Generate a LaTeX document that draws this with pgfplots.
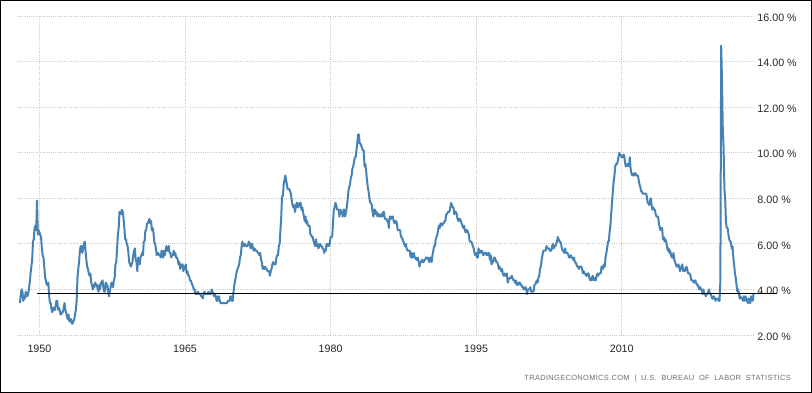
\documentclass[border=0pt]{standalone}
\usepackage{pgfplots}
\pgfplotsset{compat=1.18}
\usepackage{pgfplotstable}
\usepackage{fontspec}
\setmainfont{Liberation Sans}
\newfontfamily\footfont[LetterSpace=4]{Liberation Sans}
\definecolor{lineblue}{RGB}{70,130,180}
\definecolor{gridgray}{RGB}{200,200,200}
\definecolor{footgray}{RGB}{110,110,110}
% US unemployment rate, monthly, Jan 1948 - Aug 2023
\pgfplotstableread[row sep=\\, header=false]{
3.4\\3.8\\4.0\\3.9\\3.5\\3.6\\3.6\\3.9\\3.8\\3.7\\3.8\\4.0\\
4.3\\4.7\\5.0\\5.3\\6.1\\6.2\\6.7\\6.8\\6.6\\7.9\\6.4\\6.6\\
6.5\\6.4\\6.3\\5.8\\5.5\\5.4\\5.0\\4.5\\4.4\\4.2\\4.2\\4.3\\
3.7\\3.4\\3.4\\3.1\\3.0\\3.2\\3.1\\3.1\\3.3\\3.5\\3.5\\3.1\\
3.2\\3.1\\2.9\\2.9\\3.0\\3.0\\3.2\\3.4\\3.1\\3.0\\2.8\\2.7\\
2.9\\2.6\\2.6\\2.7\\2.5\\2.5\\2.6\\2.7\\2.9\\3.1\\3.5\\4.5\\
4.9\\5.2\\5.7\\5.9\\5.9\\5.6\\5.8\\6.0\\6.1\\5.7\\5.3\\5.0\\
4.9\\4.7\\4.6\\4.7\\4.3\\4.2\\4.0\\4.2\\4.1\\4.3\\4.2\\4.2\\
4.0\\3.9\\4.2\\4.0\\4.3\\4.3\\4.4\\4.1\\3.9\\3.9\\4.3\\4.2\\
4.2\\3.9\\3.7\\3.9\\4.1\\4.3\\4.2\\4.1\\4.4\\4.5\\5.1\\5.2\\
5.8\\6.4\\6.7\\7.4\\7.4\\7.3\\7.5\\7.4\\7.1\\6.7\\6.2\\6.2\\
6.0\\5.9\\5.6\\5.2\\5.1\\5.0\\5.1\\5.2\\5.5\\5.7\\5.8\\5.3\\
5.2\\4.8\\5.4\\5.2\\5.1\\5.4\\5.5\\5.6\\5.5\\6.1\\6.1\\6.6\\
6.6\\6.9\\6.9\\7.0\\7.1\\6.9\\7.0\\6.6\\6.7\\6.5\\6.1\\6.0\\
5.8\\5.5\\5.6\\5.6\\5.5\\5.5\\5.4\\5.7\\5.6\\5.4\\5.7\\5.5\\
5.7\\5.9\\5.7\\5.7\\5.9\\5.6\\5.6\\5.4\\5.5\\5.5\\5.7\\5.5\\
5.6\\5.4\\5.4\\5.3\\5.1\\5.2\\4.9\\5.0\\5.1\\5.1\\4.8\\5.0\\
4.9\\5.1\\4.7\\4.8\\4.6\\4.6\\4.4\\4.4\\4.3\\4.2\\4.1\\4.0\\
4.0\\3.8\\3.8\\3.8\\3.9\\3.8\\3.8\\3.8\\3.7\\3.7\\3.6\\3.8\\
3.9\\3.8\\3.8\\3.8\\3.8\\3.9\\3.8\\3.8\\3.8\\4.0\\3.9\\3.8\\
3.7\\3.8\\3.7\\3.5\\3.5\\3.7\\3.7\\3.5\\3.4\\3.4\\3.4\\3.4\\
3.4\\3.4\\3.4\\3.4\\3.4\\3.5\\3.5\\3.5\\3.7\\3.7\\3.5\\3.5\\
3.9\\4.2\\4.4\\4.6\\4.8\\4.9\\5.0\\5.1\\5.4\\5.5\\5.9\\6.1\\
5.9\\5.9\\6.0\\5.9\\5.9\\5.9\\6.0\\6.1\\6.0\\5.8\\6.0\\6.0\\
5.8\\5.7\\5.8\\5.7\\5.7\\5.7\\5.6\\5.6\\5.5\\5.6\\5.3\\5.2\\
4.9\\5.0\\4.9\\5.0\\4.9\\4.9\\4.8\\4.8\\4.8\\4.6\\4.8\\4.9\\
5.1\\5.2\\5.1\\5.1\\5.1\\5.4\\5.5\\5.5\\5.9\\6.0\\6.6\\7.2\\
8.1\\8.1\\8.6\\8.8\\9.0\\8.8\\8.6\\8.4\\8.4\\8.4\\8.3\\8.2\\
7.9\\7.7\\7.6\\7.7\\7.4\\7.6\\7.8\\7.8\\7.6\\7.7\\7.8\\7.8\\
7.5\\7.6\\7.4\\7.2\\7.0\\7.2\\6.9\\7.0\\6.8\\6.8\\6.8\\6.4\\
6.4\\6.3\\6.3\\6.1\\6.0\\5.9\\6.2\\5.9\\6.0\\5.8\\5.9\\6.0\\
5.9\\5.9\\5.8\\5.8\\5.6\\5.7\\5.7\\6.0\\5.9\\6.0\\5.9\\6.0\\
6.3\\6.3\\6.3\\6.9\\7.5\\7.6\\7.8\\7.7\\7.5\\7.5\\7.5\\7.2\\
7.5\\7.4\\7.4\\7.2\\7.5\\7.5\\7.2\\7.4\\7.6\\7.9\\8.3\\8.5\\
8.6\\8.9\\9.0\\9.3\\9.4\\9.6\\9.8\\9.8\\10.1\\10.4\\10.8\\10.8\\
10.4\\10.4\\10.3\\10.2\\10.1\\10.1\\9.4\\9.5\\9.2\\8.8\\8.5\\8.3\\
8.0\\7.8\\7.8\\7.7\\7.4\\7.2\\7.5\\7.5\\7.3\\7.4\\7.2\\7.3\\
7.3\\7.2\\7.2\\7.3\\7.2\\7.4\\7.4\\7.1\\7.1\\7.1\\7.0\\7.0\\
6.7\\7.2\\7.2\\7.1\\7.2\\7.2\\7.0\\6.9\\7.0\\7.0\\6.9\\6.6\\
6.6\\6.6\\6.6\\6.3\\6.3\\6.2\\6.1\\6.0\\5.9\\6.0\\5.8\\5.7\\
5.7\\5.7\\5.7\\5.4\\5.6\\5.4\\5.4\\5.6\\5.4\\5.4\\5.3\\5.3\\
5.4\\5.2\\5.0\\5.2\\5.2\\5.3\\5.2\\5.2\\5.3\\5.3\\5.4\\5.4\\
5.4\\5.3\\5.2\\5.4\\5.4\\5.2\\5.5\\5.7\\5.9\\5.9\\6.2\\6.3\\
6.4\\6.6\\6.8\\6.7\\6.9\\6.9\\6.8\\6.9\\6.9\\7.0\\7.0\\7.3\\
7.3\\7.4\\7.4\\7.4\\7.6\\7.8\\7.7\\7.6\\7.6\\7.3\\7.4\\7.4\\
7.3\\7.1\\7.0\\7.1\\7.1\\7.0\\6.9\\6.8\\6.7\\6.8\\6.6\\6.5\\
6.6\\6.6\\6.5\\6.4\\6.1\\6.1\\6.1\\6.0\\5.9\\5.8\\5.6\\5.5\\
5.6\\5.4\\5.4\\5.8\\5.6\\5.6\\5.7\\5.7\\5.6\\5.5\\5.6\\5.6\\
5.6\\5.5\\5.5\\5.6\\5.6\\5.3\\5.5\\5.1\\5.2\\5.2\\5.4\\5.4\\
5.3\\5.2\\5.2\\5.1\\4.9\\5.0\\4.9\\4.8\\4.9\\4.7\\4.6\\4.7\\
4.6\\4.6\\4.7\\4.3\\4.4\\4.5\\4.5\\4.5\\4.6\\4.5\\4.4\\4.4\\
4.3\\4.4\\4.2\\4.3\\4.2\\4.3\\4.3\\4.2\\4.2\\4.1\\4.1\\4.0\\
4.0\\4.1\\4.0\\3.8\\4.0\\4.0\\4.0\\4.1\\3.9\\3.9\\3.9\\3.9\\
4.2\\4.2\\4.3\\4.4\\4.3\\4.5\\4.6\\4.9\\5.0\\5.3\\5.5\\5.7\\
5.7\\5.7\\5.7\\5.9\\5.8\\5.8\\5.8\\5.7\\5.7\\5.7\\5.9\\6.0\\
5.8\\5.9\\5.9\\6.0\\6.1\\6.3\\6.2\\6.1\\6.1\\6.0\\5.8\\5.7\\
5.7\\5.6\\5.8\\5.6\\5.6\\5.6\\5.5\\5.4\\5.4\\5.5\\5.4\\5.4\\
5.3\\5.4\\5.2\\5.2\\5.1\\5.0\\5.0\\4.9\\5.0\\5.0\\5.0\\4.9\\
4.7\\4.8\\4.7\\4.7\\4.6\\4.6\\4.7\\4.7\\4.5\\4.4\\4.5\\4.4\\
4.6\\4.5\\4.4\\4.5\\4.4\\4.6\\4.7\\4.6\\4.7\\4.7\\4.7\\5.0\\
5.0\\4.9\\5.1\\5.0\\5.4\\5.6\\5.8\\6.1\\6.1\\6.5\\6.8\\7.3\\
7.8\\8.3\\8.7\\9.0\\9.4\\9.5\\9.5\\9.6\\9.8\\10.0\\9.9\\9.9\\
9.8\\9.8\\9.9\\9.9\\9.6\\9.4\\9.4\\9.5\\9.5\\9.4\\9.8\\9.3\\
9.1\\9.0\\9.0\\9.1\\9.0\\9.1\\9.0\\9.0\\9.0\\8.8\\8.6\\8.5\\
8.3\\8.3\\8.2\\8.2\\8.2\\8.2\\8.2\\8.1\\7.8\\7.8\\7.7\\7.9\\
8.0\\7.7\\7.5\\7.6\\7.5\\7.5\\7.3\\7.2\\7.2\\7.2\\6.9\\6.7\\
6.6\\6.7\\6.7\\6.2\\6.3\\6.1\\6.2\\6.1\\5.9\\5.7\\5.8\\5.6\\
5.7\\5.5\\5.4\\5.4\\5.6\\5.3\\5.2\\5.1\\5.0\\5.0\\5.1\\5.0\\
4.8\\4.9\\5.0\\5.1\\4.8\\4.9\\4.8\\4.9\\5.0\\4.9\\4.7\\4.7\\
4.7\\4.6\\4.4\\4.4\\4.4\\4.3\\4.3\\4.4\\4.3\\4.2\\4.2\\4.1\\
4.0\\4.1\\4.0\\4.0\\3.8\\4.0\\3.8\\3.8\\3.7\\3.8\\3.8\\3.9\\
4.0\\3.8\\3.8\\3.7\\3.6\\3.6\\3.7\\3.6\\3.5\\3.6\\3.6\\3.6\\
3.5\\3.5\\4.4\\14.7\\13.2\\11.0\\10.2\\8.4\\7.9\\6.9\\6.7\\6.7\\
6.4\\6.2\\6.1\\6.1\\5.8\\5.9\\5.4\\5.1\\4.7\\4.5\\4.2\\3.9\\
4.0\\3.8\\3.6\\3.7\\3.6\\3.6\\3.5\\3.7\\3.5\\3.7\\3.6\\3.5\\
3.4\\3.6\\3.5\\3.4\\3.7\\3.6\\3.5\\3.8\\
}\unrate
\begin{document}
\begin{tikzpicture}[x=1pt,y=1pt]
\useasboundingbox (0,0) rectangle (812,393);
\draw[black, line width=1pt] (0.5,0.5) rectangle (811.5,392.5);
\begin{axis}[
  at={(18pt,58pt)}, anchor=south west,
  scale only axis, width=735.6pt, height=319pt,
  xmin=1947.79, xmax=2023.59, ymin=2, ymax=16,
  axis line style={draw=none},
  major tick length=0pt,
  xtick={1950,1965,1980,1995,2010},
  xticklabels={1950,1965,1980,1995,2010},
  ytick={2,4,6,8,10,12,14,16},
  yticklabels={2.00 \%,4.00 \%,6.00 \%,8.00 \%,10.00 \%,12.00 \%,14.00 \%,16.00 \%},
  xtick pos=bottom, ytick pos=right, yticklabel pos=right,
  grid=major,
  major grid style={gridgray, line width=0.8pt, dash pattern=on 1pt off 1.2pt},
  tick label style={font=\fontsize{10.7}{12}\selectfont, text=black!85},
  xticklabel style={anchor=north, inner sep=0pt, yshift=-10pt},
  yticklabel style={anchor=west, inner sep=0pt, xshift=3.7pt, yshift=-1.5pt},
  clip=false,
]
\addplot[lineblue, line width=2pt, line join=round] table[x expr=1948+\coordindex/12, y index=0] {\unrate};
\addplot[black, line width=1pt] coordinates {(1949.72,3.8) (2026.0,3.8)};
\end{axis}
\node[anchor=east, text=footgray, inner sep=0pt, font=\footfont\fontsize{7.5}{9}\selectfont] at (791,14) {TRADINGECONOMICS.COM \ | \ U.S. \ BUREAU \ OF \ LABOR \ STATISTICS};
\end{tikzpicture}
\end{document}
